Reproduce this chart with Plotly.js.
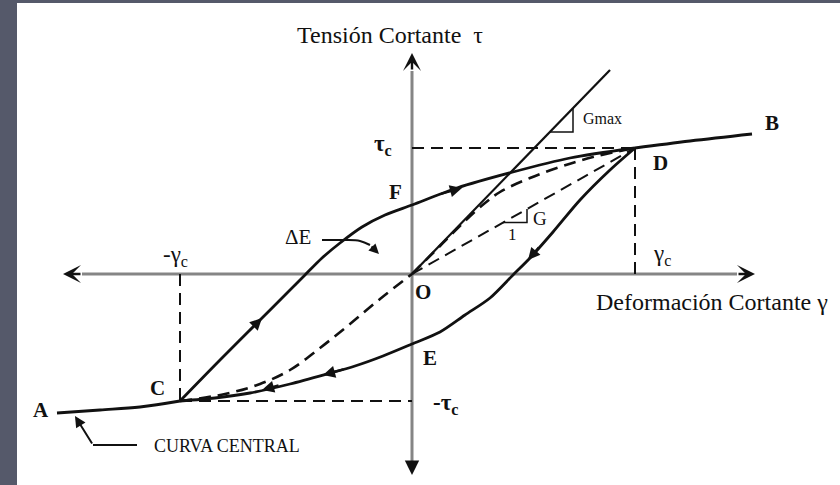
<!DOCTYPE html>
<html>
<head>
<meta charset="utf-8">
<script src="https://cdn.plot.ly/plotly-3.0.1.min.js"></script>
<style>
  html, body { margin: 0; padding: 0; background: #55596a; }
  #chart { width: 840px; height: 485px; }
</style>
</head>
<body>
<div id="chart"></div>
<script>
// Shear strain (gamma) / shear stress (tau) in arbitrary units, origin at O.

// Backbone curve ("curva central"), outer solid parts
const backboneNegG = [-3.55, -3.12, -2.72, -2.32];
const backboneNegT = [-1.39, -1.36, -1.33, -1.27];
const backbonePosG = [2.23, 2.78, 3.40];
const backbonePosT = [1.26, 1.33, 1.40];

// Backbone curve, inner dashed parts (C -> O and O -> D)
const innerNegG = [-2.32, -1.87, -1.52, -1.22, -0.92, -0.62, -0.32, 0];
const innerNegT = [-1.27, -1.20, -1.10, -0.96, -0.74, -0.50, -0.25, 0];
const innerPosG = [0, 0.28, 0.53, 0.73, 0.88, 1.18, 1.51, 1.85, 2.23];
const innerPosT = [0, 0.28, 0.53, 0.71, 0.82, 0.96, 1.08, 1.18, 1.26];

// Hysteresis loop: loading branch C -> F -> D
const loadG = [-2.32, -1.92, -1.54, -1.22, -1.07, -0.90, -0.72, -0.50, -0.27, 0, 0.45, 1.01, 1.58, 2.23];
const loadT = [-1.27, -0.86, -0.48, -0.16, -0.01, 0.16, 0.31, 0.47, 0.59, 0.69, 0.86, 1.02, 1.16, 1.26];

// Hysteresis loop: unloading branch D -> E -> C
const unloadG = [2.23, 1.98, 1.68, 1.41, 1.18, 1.01, 0.78, 0.53, 0.28, 0, -0.29, -0.57, -0.85, -1.22, -1.62, -1.97, -2.32];
const unloadT = [1.26, 1.04, 0.74, 0.42, 0.16, -0.01, -0.24, -0.41, -0.58, -0.70, -0.82, -0.92, -1.00, -1.10, -1.19, -1.24, -1.27];

// Reversal points
const gammaC = 2.23, tauC = 1.26;         // D
const gammaCneg = -2.32, tauCneg = -1.27; // C

// Initial tangent (Gmax) and secant (G)
const tangentG = [0, 1.98];
const tangentT = [0, 2.04];
const secantG = [0, gammaC];
const secantT = [0, tauC];

// Slope triangles
const gmaxTriG = [1.38, 1.61, 1.61];
const gmaxTriT = [1.42, 1.42, 1.66];
const gTriG = [0.91, 1.15, 1.15];
const gTriT = [0.514, 0.514, 0.65];

// Coordinate axes (line part, arrow tips)
const axisGMin = -3.30, axisGMax = 3.25, axisGTipMin = -3.49, axisGTipMax = 3.43;
const axisTMin = -1.90, axisTMax = 2.03, axisTTipMin = -2.01, axisTTipMax = 2.21;

// Direction arrows along the loop
const arrowHeadG = [-1.50, 0.50, 1.16, -0.89, -1.50];
const arrowHeadT = [-0.44, 0.86, 0.14, -1.01, -1.16];
const arrowTailG = [-1.64, 0.28, 1.28, -0.67, -1.32];
const arrowTailT = [-0.58, 0.80, 0.28, -0.95, -1.11];

// Pointer from the ΔE label into the loop
const deltaEPtrG = [-0.90, -0.67, -0.52, -0.42];
const deltaEPtrT = [0.34, 0.34, 0.33, 0.29];
const deltaEHead = [-0.33, 0.20];

// Pointer from "CURVA CENTRAL" to the backbone
const centralPtrG = [-2.75, -3.19];
const centralPtrT = [-1.71, -1.71];
const centralHead = [-3.37, -1.42];

const INK = '#111111';
const AXIS = '#858585';
const SERIF = 'Liberation Serif, Times New Roman, serif';
const DASH = '12px,7px';

function line(x, y, opts) {
  return Object.assign({
    type: 'scatter', mode: 'lines', x: x, y: y, hoverinfo: 'skip',
    line: { color: INK, width: 2.6 }
  }, opts || {});
}

const traces = [
  // axes
  line([axisGMin, axisGMax], [0, 0], { line: { color: AXIS, width: 3 } }),
  line([0, 0], [axisTMin, axisTMax], { line: { color: AXIS, width: 3 } }),
  // reference dashed lines
  line([0, gammaC], [tauC, tauC], { line: { color: INK, width: 2, dash: DASH } }),
  line([gammaC, gammaC], [0, tauC], { line: { color: INK, width: 2, dash: DASH } }),
  line([gammaCneg, gammaCneg], [0, tauCneg], { line: { color: INK, width: 2, dash: DASH } }),
  line([gammaCneg, 0], [tauCneg, tauCneg], { line: { color: INK, width: 2, dash: DASH } }),
  // secant G and backbone inner part
  line(secantG, secantT, { line: { color: INK, width: 2, dash: DASH } }),
  line(innerNegG, innerNegT, { line: { color: INK, width: 2.6, dash: DASH, shape: 'spline' } }),
  line(innerPosG, innerPosT, { line: { color: INK, width: 2.6, dash: DASH, shape: 'spline' } }),
  // tangent Gmax
  line(tangentG, tangentT, { line: { color: INK, width: 2.2 } }),
  // slope triangles
  line(gmaxTriG, gmaxTriT, { line: { color: INK, width: 1.5 } }),
  line(gTriG, gTriT, { line: { color: INK, width: 1.5 } }),
  // backbone outer parts
  line(backboneNegG, backboneNegT, { line: { color: INK, width: 2.8, shape: 'spline' } }),
  line(backbonePosG, backbonePosT, { line: { color: INK, width: 2.8, shape: 'spline' } }),
  // hysteresis loop
  line(loadG, loadT, { line: { color: INK, width: 2.8, shape: 'spline', smoothing: 0.8 } }),
  line(unloadG, unloadT, { line: { color: INK, width: 2.8, shape: 'spline', smoothing: 0.8 } }),
  // pointers
  line(deltaEPtrG, deltaEPtrT, { line: { color: INK, width: 2, shape: 'spline' } }),
  line(centralPtrG, centralPtrT, { line: { color: INK, width: 2 } })
];

const annotations = [];

function arrow(hx, hy, tx, ty, head, size, width) {
  annotations.push({
    x: hx, y: hy, ax: tx, ay: ty, xref: 'x', yref: 'y', axref: 'x', ayref: 'y',
    text: '', showarrow: true, arrowhead: head, arrowsize: size, arrowwidth: width,
    arrowcolor: INK, standoff: 0, startstandoff: 0
  });
}

// axis arrow tips
arrow(axisGTipMax, 0, axisGMax, 0, 3, 1.25, 2.4);
arrow(axisGTipMin, 0, axisGMin, 0, 3, 1.25, 2.4);
arrow(0, axisTTipMax, 0, axisTMax, 3, 1.25, 2.4);
arrow(0, axisTTipMin, 0, axisTMin, 2, 1.2, 2.4);

// loop direction arrows
for (let i = 0; i < arrowHeadG.length; i++) {
  arrow(arrowHeadG[i], arrowHeadT[i], arrowTailG[i], arrowTailT[i], 2, 1.1, 2.2);
}

// ΔE and CURVA CENTRAL pointer heads
arrow(deltaEHead[0], deltaEHead[1], deltaEPtrG[3], deltaEPtrT[3], 2, 1.0, 2);
arrow(centralHead[0], centralHead[1], centralPtrG[1], centralPtrT[1], 2, 1.1, 2);

function label(text, x, y, size, bold, anchor) {
  annotations.push({
    x: x, y: y, xref: 'x', yref: 'y', text: bold ? '<b>' + text + '</b>' : text,
    showarrow: false, xanchor: anchor || 'center', yanchor: 'middle',
    font: { family: SERIF, size: size, color: INK }
  });
}

label('Tensión Cortante  τ', -0.22, 2.39, 24, false);
label('Deformación Cortante γ', 3.00, -0.28, 24, false);
label('B', 3.60, 1.51, 21, true);
label('D', 2.48, 1.11, 21, true);
label('A', -3.71, -1.36, 21, true);
label('C', -2.55, -1.14, 21, true);
label('O', 0.11, -0.18, 21, true);
label('E', 0.18, -0.84, 21, true);
label('F', -0.17, 0.82, 21, true);
label('τ<sub>c</sub>', -0.29, 1.29, 23, true);
label('γ<sub>c</sub>', 2.50, 0.19, 23, false);
label('-γ<sub>c</sub>', -2.37, 0.18, 23, false);
label('-τ<sub>c</sub>', 0.33, -1.30, 23, true);
label('ΔE', -1.14, 0.37, 21, false);
label('G', 1.28, 0.56, 19, false);
label('1', 1.00, 0.40, 17, false);
label('Gmax', 1.90, 1.56, 16, false);
label('CURVA CENTRAL', -1.85, -1.72, 18, false);

const layout = {
  width: 840, height: 485,
  margin: { l: 17, r: 0, t: 3, b: 0, pad: 0 },
  paper_bgcolor: '#55596a',
  plot_bgcolor: '#ffffff',
  showlegend: false,
  xaxis: { range: [-3.95, 4.28], visible: false, fixedrange: true },
  yaxis: { range: [-2.11, 2.71], visible: false, fixedrange: true },
  annotations: annotations
};

Plotly.newPlot('chart', traces, layout, { staticPlot: true, displayModeBar: false });
</script>
</body>
</html>
